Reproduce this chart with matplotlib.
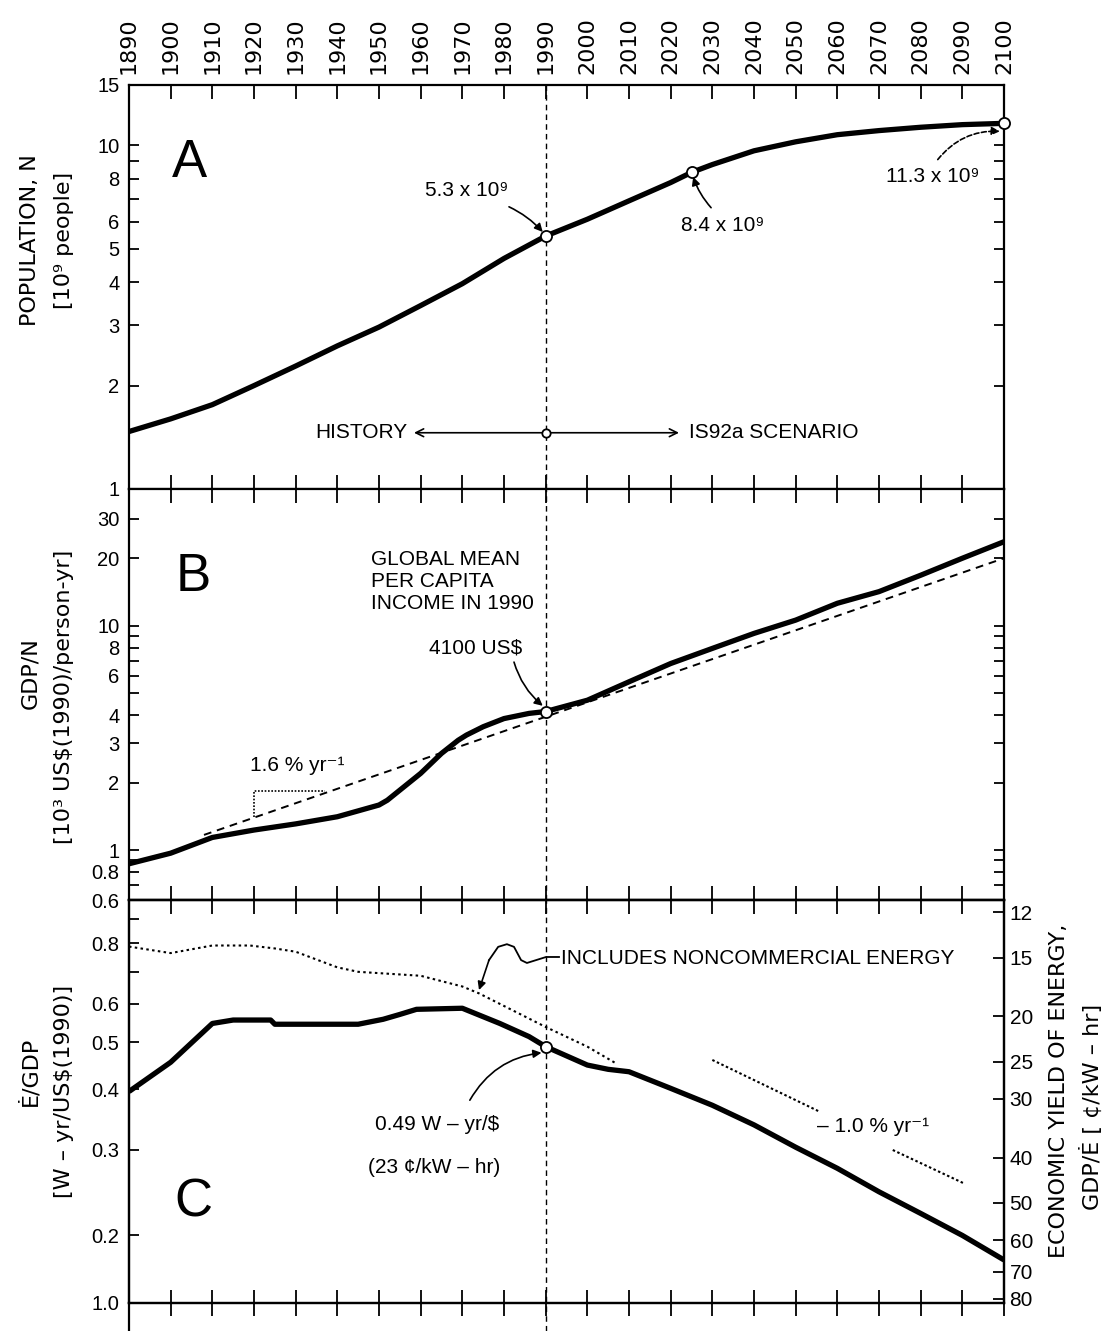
"""Три панели: население, душевой ВВП и энергоёмкость 1890-2100 (сценарий IS92a)."""
from __future__ import annotations

import matplotlib.pyplot as plt
from matplotlib import font_manager
from matplotlib.lines import Line2D
from matplotlib.ticker import NullFormatter, NullLocator

_INSTALLED = {f.name for f in font_manager.fontManager.ttflist}
NARROW = "Liberation Sans" if "Liberation Sans" in _INSTALLED else "DejaVu Sans"
WIDE = "DejaVu Sans"

plt.rcParams.update({
    "font.family": [NARROW, "DejaVu Sans"],
    "font.size": 15,
    "axes.linewidth": 1.6,
    "xtick.major.width": 1.3,
    "ytick.major.width": 1.3,
    "ytick.minor.width": 1.3,
    "xtick.direction": "in",
    "ytick.direction": "in",
    "savefig.facecolor": "white",
})

W_PX, H_PX = 1109, 1331
X0_PX, X1_PX = 129, 1004

YEAR_TICKS = list(range(1890, 2101, 10))

# ===== A: население, 10^9 =====
POP_YEARS = [1890, 1900, 1910, 1920, 1930, 1940, 1950, 1960, 1970, 1980, 1990,
             2000, 2010, 2020, 2025, 2030, 2040, 2050, 2060, 2070, 2080, 2090, 2100]
POP = [1.47, 1.60, 1.76, 2.00, 2.28, 2.61, 2.96, 3.42, 3.96, 4.69, 5.45,
       6.10, 6.90, 7.80, 8.35, 8.80, 9.65, 10.25, 10.75, 11.05, 11.3, 11.5, 11.6]
POP_MARKED = [1990, 2025, 2100]
POP_LIM = (1, 15)
POP_TICKS = [1, 2, 3, 4, 5, 6, 8, 10, 15]
POP_MINOR = [7, 9]

# ===== B: ВВП на душу, 10^3 US$(1990) =====
GDP_YEARS = [1890, 1900, 1910, 1920, 1930, 1940, 1950, 1952, 1960, 1965, 1969,
             1971, 1975, 1980, 1986, 1990, 2000, 2010, 2020, 2030, 2040, 2050,
             2060, 2070, 2080, 2090, 2100]
GDP = [0.87, 0.97, 1.14, 1.23, 1.31, 1.41, 1.59, 1.67, 2.20, 2.70, 3.09,
       3.26, 3.55, 3.86, 4.07, 4.15, 4.66, 5.63, 6.79, 7.93, 9.25, 10.6,
       12.6, 14.2, 16.8, 20.0, 23.7]
TREND_YEARS = [1908, 2100]          # тренд 1.6 %/год
TREND = [1.17, 20.0]
SLOPE_YEARS = [1920, 1920, 1937]    # "треугольник" наклона
SLOPE = [1.41, 1.84, 1.84]
GDP_LIM = (0.6, 40.7)
GDP_TICKS = [0.6, 0.8, 1, 2, 3, 4, 6, 8, 10, 20, 30]
GDP_MINOR = [0.7, 0.9, 5, 7, 9]

# ===== C: энергоёмкость, W-yr/US$(1990) =====
EI_YEARS = [1890, 1900, 1910, 1915, 1924, 1925, 1945, 1951, 1955, 1959, 1970,
            1973, 1979, 1986, 1990, 2000, 2005, 2010, 2020, 2030, 2040, 2050,
            2060, 2070, 2080, 2090, 2100]
EI = [0.396, 0.455, 0.547, 0.556, 0.556, 0.545, 0.545, 0.558, 0.571, 0.585, 0.588,
      0.574, 0.547, 0.514, 0.490, 0.449, 0.440, 0.435, 0.402, 0.371, 0.338, 0.304,
      0.275, 0.246, 0.222, 0.200, 0.178]
NONCOM_YEARS = [1890, 1900, 1910, 1919, 1925, 1930, 1940, 1945, 1960, 1970,
                1974, 1990, 2000, 2007]
NONCOM = [0.788, 0.764, 0.792, 0.792, 0.781, 0.769, 0.714, 0.699, 0.686, 0.652,
          0.631, 0.538, 0.490, 0.452]
DECLINE_A_YEARS = [2030, 2055.7]    # пунктир -1.0 %/год
DECLINE_A = [0.460, 0.360]
DECLINE_B_YEARS = [2073.3, 2090.4]
DECLINE_B = [0.300, 0.256]
EI_LIM = (0.1451, 0.983)
EI_TICKS = [0.1451, 0.2, 0.3, 0.4, 0.5, 0.6, 0.8]
EI_TICK_LABELS = ["1.0", "0.2", "0.3", "0.4", "0.5", "0.6", "0.8"]
EI_MINOR = [0.7, 0.9]

YIELD_LIM = (81.7, 11.3)
YIELD_TICKS = [12, 15, 20, 25, 30, 40, 50, 60, 70, 80]

TXT = 15        # размер подписей-аннотаций
BIG = 38        # буквы панелей


def px(x, y):
    """Пиксели картинки -> доли фигуры."""
    return x / W_PX, 1 - y / H_PX


def panel(fig, top, bottom):
    ax = fig.add_axes([X0_PX / W_PX, 1 - bottom / H_PX,
                       (X1_PX - X0_PX) / W_PX, (bottom - top) / H_PX])
    ax.set_yscale("log")
    ax.set_xlim(1890, 2100)
    ax.set_xticks(YEAR_TICKS)
    ax.tick_params(axis="x", which="both", top=True, bottom=True, length=10,
                   labelbottom=False)
    ax.tick_params(axis="y", which="both", left=True, right=True, length=7,
                   labelsize=14.5, labelfontfamily=NARROW, pad=7)
    return ax


def set_log_ticks(ax, ticks, minor, labels=None):
    if labels is None:
        labels = [f"{t:g}" for t in ticks]
    ax.set_yticks(ticks, labels=labels)
    ax.set_yticks(minor, minor=True)
    ax.yaxis.set_minor_formatter(NullFormatter())


def vline_1990(ax, below=0.0):
    ax.axvline(1990, ymin=-below, ymax=1, color="black", linewidth=1.0,
               linestyle=(0, (4, 3)), clip_on=False, zorder=2)


ARROW = dict(arrowstyle="-|>", color="black", linewidth=1.2,
             mutation_scale=12, shrinkA=0, shrinkB=0)
OPEN_ARROW = dict(arrowstyle="->", color="black", linewidth=1.2,
                  mutation_scale=14, shrinkA=0, shrinkB=0)
CIRCLE = dict(marker="o", markersize=8, markerfacecolor="white",
              markeredgecolor="black", markeredgewidth=1.3, linestyle="none",
              zorder=6, clip_on=False)


def main():
    fig = plt.figure(figsize=(W_PX / 100, H_PX / 100), dpi=100)

    ax_a = panel(fig, 85, 489)
    ax_b = panel(fig, 489, 900)
    ax_c = panel(fig, 900, 1303)

    # ===== A =====
    ax = ax_a
    ax.plot(POP_YEARS, POP, color="black", linewidth=3.8, solid_capstyle="butt",
            zorder=4)
    pop = dict(zip(POP_YEARS, POP))
    ax.plot(POP_MARKED, [pop[y] for y in POP_MARKED], **CIRCLE)
    ax.set_ylim(*POP_LIM)
    set_log_ticks(ax, POP_TICKS, POP_MINOR)
    ax.tick_params(axis="x", labeltop=True, labelrotation=90, labelsize=16,
                   labelfontfamily=WIDE, pad=8)
    vline_1990(ax)

    ax.text(1904.4, 8.9, "A", fontsize=BIG, ha="center", va="center")
    ax.text(1971.1, 7.4, "5.3 x 10⁹", fontsize=TXT, ha="center", va="center")
    ax.annotate("", xy=(1989.3, 5.6), xytext=(1981.2, 6.63),
                arrowprops=dict(ARROW, connectionstyle="arc3,rad=-0.1"))
    ax.text(2032.5, 5.84, "8.4 x 10⁹", fontsize=TXT, ha="center", va="center")
    ax.annotate("", xy=(2025.4, 8.1), xytext=(2029.7, 6.59),
                arrowprops=dict(ARROW, connectionstyle="arc3,rad=-0.1"))
    ax.text(2083, 8.12, "11.3 x 10⁹", fontsize=TXT, ha="center", va="center")
    ax.annotate("", xy=(2099, 11.0), xytext=(2084.1, 9.1),
                arrowprops=dict(ARROW, linestyle=(0, (3, 1.5)),
                                connectionstyle="arc3,rad=-0.25"))

    # история / сценарий
    ax.annotate("", xy=(1958.4, 1.458), xytext=(1990, 1.458), arrowprops=OPEN_ARROW)
    ax.annotate("", xy=(2022.0, 1.458), xytext=(1990, 1.458), arrowprops=OPEN_ARROW)
    ax.plot([1990], [1.458], **dict(CIRCLE, markersize=6))
    ax.text(1956.7, 1.458, "HISTORY", fontsize=TXT, ha="right", va="center")
    ax.text(2024.4, 1.458, "IS92a SCENARIO", fontsize=TXT, ha="left", va="center")

    # ===== B =====
    ax = ax_b
    ax.plot(GDP_YEARS, GDP, color="black", linewidth=3.8, solid_capstyle="butt",
            zorder=4)
    ax.plot(TREND_YEARS, TREND, color="black", linewidth=1.4,
            linestyle=(0, (4, 3)), zorder=3)
    ax.plot(SLOPE_YEARS, SLOPE, color="black", linewidth=1.2,
            linestyle=(0, (1, 1)), zorder=3)
    gdp = dict(zip(GDP_YEARS, GDP))
    ax.plot([1990], [gdp[1990]], **CIRCLE)
    ax.set_ylim(*GDP_LIM)
    set_log_ticks(ax, GDP_TICKS, GDP_MINOR)
    vline_1990(ax)

    ax.text(1905.4, 16.5, "B", fontsize=BIG, ha="center", va="center")
    ax.text(1948.1, 15.7, "GLOBAL MEAN\nPER CAPITA\nINCOME IN 1990", fontsize=TXT,
            ha="left", va="center", linespacing=1.2)
    ax.text(1973.3, 7.96, "4100 US$", fontsize=TXT, ha="center", va="center")
    ax.annotate("", xy=(1989.3, 4.4), xytext=(1982.4, 6.89),
                arrowprops=dict(ARROW, connectionstyle="arc3,rad=0.15"))
    ax.text(1930.3, 2.39, "1.6 % yr⁻¹", fontsize=TXT, ha="center", va="center")

    # ===== C =====
    ax = ax_c
    ax.plot(EI_YEARS, EI, color="black", linewidth=3.8, solid_capstyle="butt",
            zorder=4)
    ax.plot(NONCOM_YEARS, NONCOM, color="black", linewidth=1.5,
            linestyle=(0, (1.2, 1.6)), zorder=3)
    ax.plot(DECLINE_A_YEARS, DECLINE_A, color="black", linewidth=1.5,
            linestyle=(0, (1.2, 1.2)))
    ax.plot(DECLINE_B_YEARS, DECLINE_B, color="black", linewidth=1.5,
            linestyle=(0, (1.2, 1.2)))
    ei = dict(zip(EI_YEARS, EI))
    ax.plot([1990], [ei[1990]], **CIRCLE)
    ax.set_ylim(*EI_LIM)
    set_log_ticks(ax, EI_TICKS, EI_MINOR, EI_TICK_LABELS)
    ax.tick_params(axis="y", right=False)
    ax.tick_params(axis="x", top=False, direction="inout", length=19)
    sec = ax.secondary_xaxis("top")
    sec.set_xticks(YEAR_TICKS)
    sec.tick_params(direction="in", length=10, labeltop=False, width=1.3)
    sec.spines["top"].set_linewidth(1.6)
    vline_1990(ax, below=0.07)
    ax.add_line(Line2D([0, 0], [-0.07, 0], transform=ax.transAxes,
                       color="black", linewidth=1.6, clip_on=False))

    ax.text(1905.4, 0.234, "C", fontsize=BIG, ha="center", va="center")
    ax.text(1963.9, 0.338, "0.49 W – yr/$", fontsize=TXT, ha="center", va="center")
    ax.text(1963.2, 0.276, "(23 ¢/kW – hr)", fontsize=TXT, ha="center", va="center")
    ax.annotate("", xy=(1989.0, 0.476), xytext=(1971.8, 0.380),
                arrowprops=dict(ARROW, connectionstyle="arc3,rad=-0.25"))

    # петля-выноска к пунктиру
    loop_x = [1993.2, 1990.1, 1985.5, 1984.1, 1982.4, 1980.7, 1978.6, 1976.4]
    loop_y = [0.750, 0.750, 0.729, 0.739, 0.787, 0.797, 0.787, 0.739]
    ax.plot(loop_x, loop_y, color="black", linewidth=1.3, zorder=5)
    ax.annotate("", xy=(1974.0, 0.641), xytext=(1976.4, 0.739), arrowprops=ARROW)
    ax.text(1993.6, 0.743, "INCLUDES NONCOMMERCIAL ENERGY", fontsize=TXT,
            ha="left", va="center")
    ax.text(2068.5, 0.335, "– 1.0 % yr⁻¹", fontsize=TXT, ha="center", va="center")

    # правая ось: экономическая отдача энергии
    ax_r = ax.twinx()
    ax_r.set_yscale("log")
    ax_r.set_ylim(*YIELD_LIM)
    ax_r.set_yticks(YIELD_TICKS, labels=[str(t) for t in YIELD_TICKS])
    ax_r.yaxis.set_minor_locator(NullLocator())
    ax_r.tick_params(axis="y", direction="in", length=8, width=1.3, labelsize=15,
                     labelfontfamily=NARROW, pad=4)
    for s in ax_r.spines.values():
        s.set_linewidth(1.6)

    # ===== подписи осей =====
    lab = dict(rotation=90, ha="center", va="center", fontfamily=WIDE, fontsize=16)
    fig.text(*px(30, 240), "POPULATION, N", **lab)
    fig.text(*px(64, 240), "[10⁹ people]", **lab)
    fig.text(*px(30, 673), "GDP/N", **lab)
    fig.text(*px(64, 697), "[10³ US$(1990)/person-yr]", **lab)
    fig.text(*px(30, 1071), "Ė/GDP", **lab)
    fig.text(*px(64, 1091), "[W – yr/US$(1990)]", **lab)
    fig.text(*px(1059, 1091), "ECONOMIC YIELD OF ENERGY,", **lab)
    fig.text(*px(1091, 1107), "GDP/Ė [ ¢/kW – hr]", **lab)

    fig.savefig("out.png", dpi=100)
    plt.close(fig)


if __name__ == "__main__":
    main()
